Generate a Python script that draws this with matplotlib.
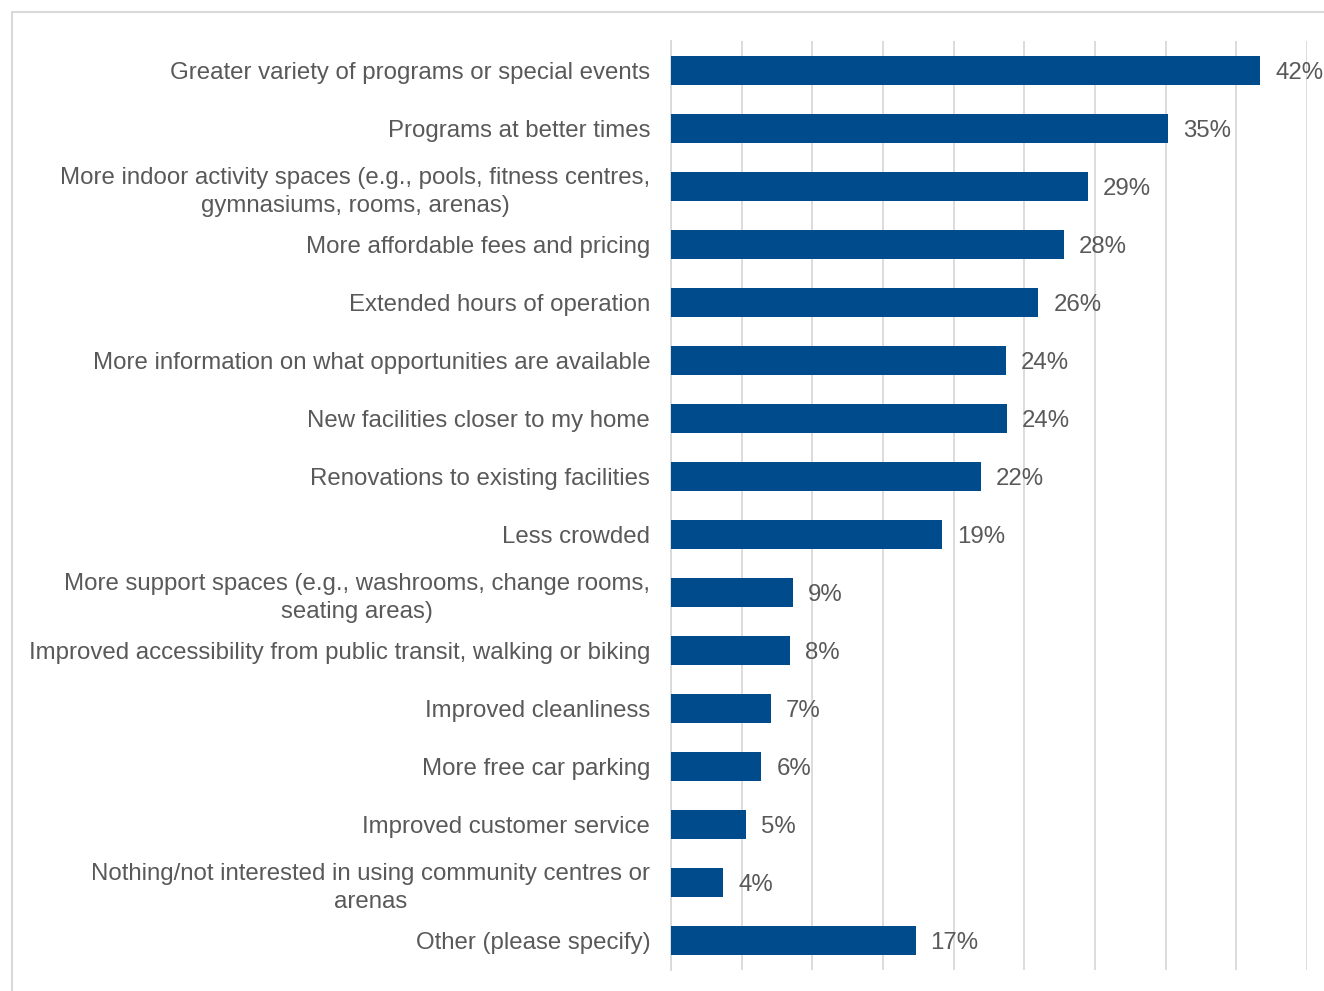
import matplotlib.pyplot as plt
from matplotlib.patches import Rectangle

plt.rcParams["font.family"] = ["Liberation Sans", "DejaVu Sans"]

BAR_COLOR = "#004b8b"
TEXT_COLOR = "#595959"
GRID_COLOR = "#d9d9d9"
FONT_SIZE = 17.3

categories = [
    "Greater variety of programs or special events",
    "Programs at better times",
    "More indoor activity spaces (e.g., pools, fitness centres,\ngymnasiums, rooms, arenas)",
    "More affordable fees and pricing",
    "Extended hours of operation",
    "More information on what opportunities are available",
    "New facilities closer to my home",
    "Renovations to existing facilities",
    "Less crowded",
    "More support spaces (e.g., washrooms, change rooms,\nseating areas)",
    "Improved accessibility from public transit, walking or biking",
    "Improved cleanliness",
    "More free car parking",
    "Improved customer service",
    "Nothing/not interested in using community centres or\narenas",
    "Other (please specify)",
]
values = [41.7, 35.2, 29.5, 27.8, 26.0, 23.7, 23.8, 21.9, 19.2,
          8.6, 8.4, 7.1, 6.4, 5.3, 3.7, 17.3]
value_labels = ["42%", "35%", "29%", "28%", "26%", "24%", "24%", "22%", "19%",
                "9%", "8%", "7%", "6%", "5%", "4%", "17%"]
x_ticks = [0, 5, 10, 15, 20, 25, 30, 35, 40, 45]

fig = plt.figure(figsize=(13.24, 9.91), dpi=100)
# light frame around the chart area (runs off right and bottom edges)
fig.patches.append(Rectangle((12 / 1324, -0.1), 1.2, 1 - 12 / 991 + 0.1,
                             transform=fig.transFigure, fill=False,
                             edgecolor=GRID_COLOR, linewidth=1.5))

ax = fig.add_axes([671 / 1324, 1 - 970 / 991, (1307 - 671) / 1324, (970 - 41) / 991])

y = list(range(len(categories)))
ax.barh(y, values, height=0.5, color=BAR_COLOR, zorder=3)
ax.set_ylim(len(categories) - 0.5, -0.5)
ax.set_xlim(0, 45)

for yi, v, lab in zip(y, values, value_labels):
    ax.text(v + 1.05, yi, lab, va="center_baseline", ha="left",
            fontsize=FONT_SIZE, color=TEXT_COLOR)

ax.set_yticks(y)
ax.set_yticklabels(categories, fontsize=FONT_SIZE, color=TEXT_COLOR, ha="right",
                   multialignment="center", linespacing=1.35)
ax.tick_params(axis="y", length=0, pad=15)

ax.set_xticks(x_ticks)
ax.tick_params(axis="x", length=0, labelbottom=False)
ax.grid(axis="x", color=GRID_COLOR, linewidth=1.3, zorder=0)

for name, spine in ax.spines.items():
    spine.set_visible(name == "left")
ax.spines["left"].set_color(GRID_COLOR)
ax.spines["left"].set_linewidth(1.3)

fig.savefig("out.png", dpi=100)
